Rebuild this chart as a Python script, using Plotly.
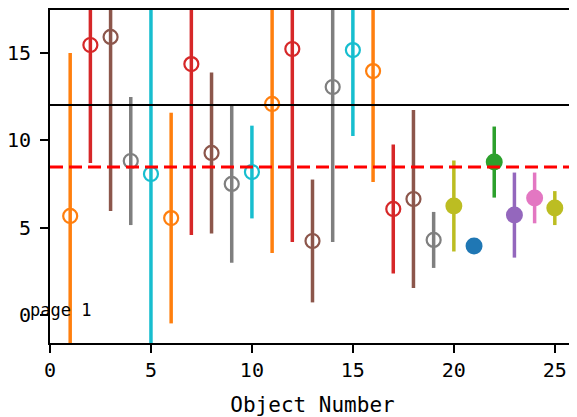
import plotly.graph_objects as go

# ---- data ----
object_number = list(range(1, 26))
values = [5.66, 15.43, 15.89, 8.80, 8.06, 5.54, 14.34, 9.26, 7.49, 8.17,
          12.06, 15.20, 4.23, 13.03, 15.14, 13.94, 6.06, 6.63, 4.29, 6.23,
          3.94, 8.74, 5.71, 6.69, 6.11]
errors = [9.31, 6.74, 9.95, 3.66, 10.5, 6.02, 9.77, 4.60, 4.51, 2.65,
          8.52, 11.03, 3.51, 8.86, 4.91, 6.34, 3.69, 5.08, 1.60, 2.60,
          0.0, 2.03, 2.43, 1.45, 0.97]
reference_level = 12.0
mean_level = 8.46
x_ticks = [0, 5, 10, 15, 20, 25]
y_ticks = [0, 5, 10, 15]

# ---- styles ----
colors = ["#ff7f0e", "#d62728", "#8c564b", "#7f7f7f", "#17becf"] * 4
colors = colors[:19] + ["#bcbd22", "#1f77b4", "#2ca02c", "#9467bd", "#e377c2", "#bcbd22"]
open_marker = [True] * 19 + [False] * 6

fig = go.Figure()
for xv, yv, ev, c, op in zip(object_number, values, errors, colors, open_marker):
    fig.add_trace(go.Scatter(
        x=[xv], y=[yv], mode="markers",
        marker=dict(symbol="circle-open" if op else "circle",
                    size=14 if op else 17, color=c,
                    line=dict(width=2.2 if op else 0, color=c)),
        error_y=dict(type="data", array=[ev], visible=ev > 0,
                     color=c, thickness=3.5, width=0),
        showlegend=False,
    ))

fig.add_shape(type="line", xref="paper", x0=0, x1=1, y0=reference_level, y1=reference_level,
              line=dict(color="black", width=2.2), layer="above")
fig.add_shape(type="line", xref="paper", x0=0, x1=1, y0=mean_level, y1=mean_level,
              line=dict(color="#ff0000", width=3, dash="13px,6px"), layer="above")

fig.add_annotation(text="page 1", xref="paper", yref="paper", x=-0.042, y=0.10,
                   xanchor="left", yanchor="middle", showarrow=False,
                   font=dict(family="DejaVu Sans Mono", size=17, color="black"))

axis_common = dict(showgrid=False, zeroline=False, showline=True, linecolor="black",
                   linewidth=2, mirror=True, ticks="outside", ticklen=8, tickwidth=1.5,
                   tickcolor="black", automargin=False,
                   tickfont=dict(family="DejaVu Sans Mono", size=20, color="black"))

# page body has an 8px default margin; the figure is sized to fill the rest of the window
fig.update_layout(
    width=569, height=409,
    margin=dict(l=42, r=2, t=2, b=74),
    plot_bgcolor="white", paper_bgcolor="white",
    xaxis=dict(range=[0, 26], tickvals=x_ticks,
               title=dict(text="Object Number", standoff=16,
                          font=dict(family="DejaVu Sans Mono", size=21, color="black")),
               **axis_common),
    yaxis=dict(range=[-1.6, 17.43], tickvals=y_ticks, ticklabelstandoff=5, **axis_common),
)

fig.write_html("out.html")
